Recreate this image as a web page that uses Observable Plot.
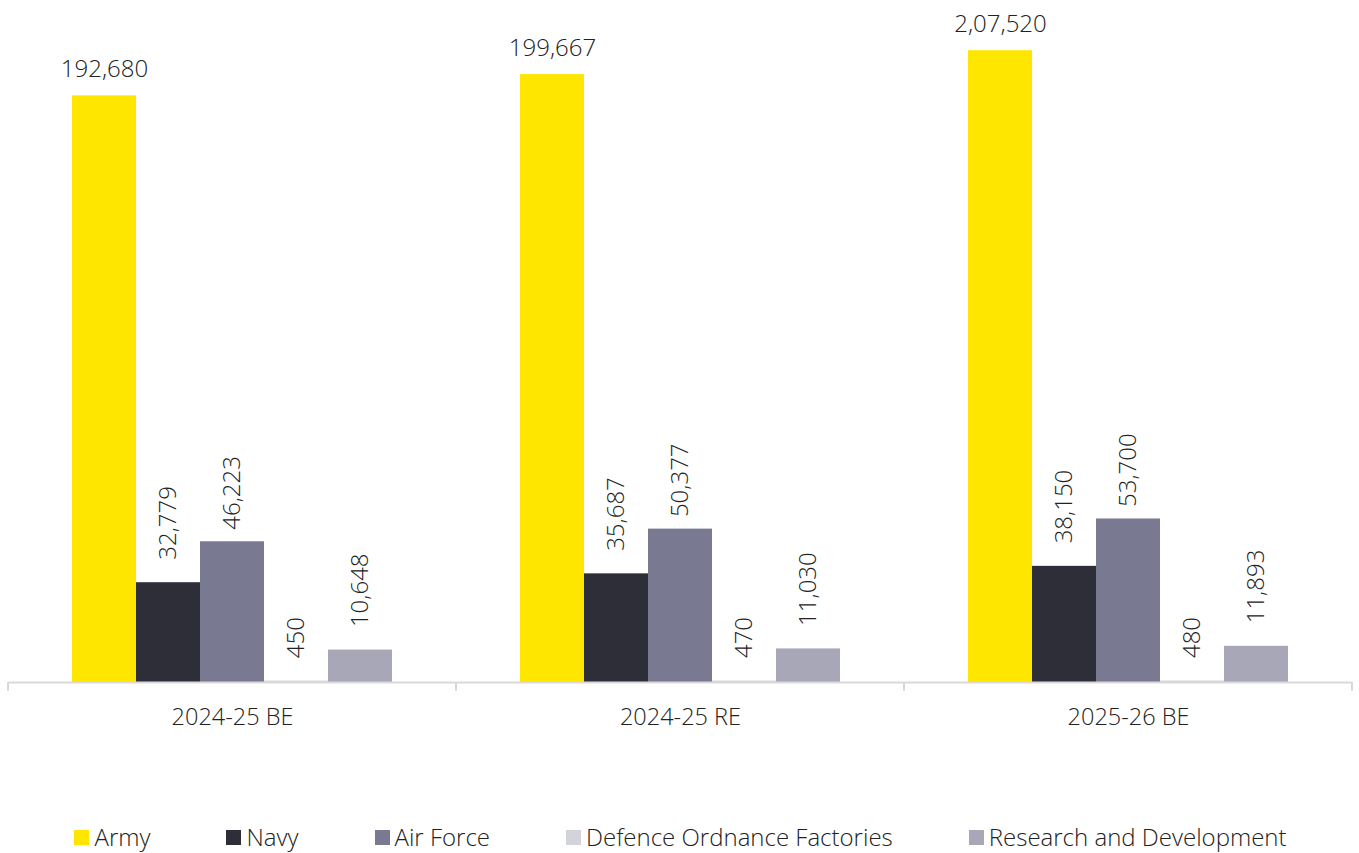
<!DOCTYPE html>
<html>
<head>
<meta charset="utf-8">
<script src="https://cdn.jsdelivr.net/npm/d3@7"></script>
<script src="https://cdn.jsdelivr.net/npm/@observablehq/plot@0.6"></script>
<style>
  html, body { margin: 0; padding: 0; background: #fff; }
  body { width: 1359px; height: 853px; overflow: hidden; font-family: "Open Sans", "Noto Sans", sans-serif; font-weight: 300; color: #222; }
  #legend { display: flex; justify-content: center; gap: 76px; margin-top: 84px; font-size: 24px; line-height: 26px; padding-left: 2px; }
  #legend .item { display: flex; align-items: center; white-space: nowrap; }
  #legend .sw { width: 15px; height: 15px; margin-right: 5px; display: inline-block; }
</style>
</head>
<body>
<div id="chart"></div>
<div id="legend"></div>
<script>
// ---- data ----
const groups = ["2024-25 BE", "2024-25 RE", "2025-26 BE"];
const series = ["Army", "Navy", "Air Force", "Defence Ordnance Factories", "Research and Development"];
const army = [192680, 199667, 207520];
const navy = [32779, 35687, 38150];
const airForce = [46223, 50377, 53700];
const ordnance = [450, 470, 480];
const research = [10648, 11030, 11893];
const armyLabels = ["192,680", "199,667", "2,07,520"];
const navyLabels = ["32,779", "35,687", "38,150"];
const airForceLabels = ["46,223", "50,377", "53,700"];
const ordnanceLabels = ["450", "470", "480"];
const researchLabels = ["10,648", "11,030", "11,893"];
const colors = ["#FFE600", "#2E2E38", "#797991", "#D3D3DC", "#A7A7B7"];

const seriesValues = [army, navy, airForce, ordnance, research];
const seriesLabels = [armyLabels, navyLabels, airForceLabels, ordnanceLabels, researchLabels];
const data = [];
series.forEach((s, si) => {
  groups.forEach((g, gi) => {
    data.push({group: g, series: s, value: seriesValues[si][gi], label: seriesLabels[si][gi]});
  });
});

const textColor = "#222";
const plot = Plot.plot({
  width: 1359,
  height: 740,
  marginLeft: 8,
  marginRight: 7,
  marginTop: 0,
  marginBottom: 58,
  style: {fontFamily: '"Open Sans", "Noto Sans", sans-serif', fontWeight: 300, fontSize: "23.5px", color: textColor, background: "#fff"},
  fx: {domain: groups, padding: 0, axis: "bottom", tickSize: 0, tickPadding: 26, label: null},
  x: {domain: series, paddingInner: 0, paddingOuter: 1, axis: null},
  y: {domain: [0, 224000], axis: null},
  color: {domain: series, range: colors},
  marks: [
    Plot.barY(data, {fx: "group", x: "series", y: "value", fill: "series"}),
    Plot.ruleY([0], {stroke: "#d9d9d9", strokeWidth: 2}),
    Plot.text(data.filter(d => d.series === "Army"), {
      fx: "group", x: "series", y: "value", text: "label",
      lineAnchor: "bottom", dy: -19, fill: textColor, fontSize: 24
    }),
    Plot.text(data.filter(d => d.series === "Air Force"), {
      fx: "group", x: "series", y: "value", text: "label",
      rotate: -90, textAnchor: "start", lineAnchor: "middle", dy: -12, fill: textColor, fontSize: 24
    }),
    Plot.text(data.filter(d => d.series !== "Army" && d.series !== "Air Force"), {
      fx: "group", x: "series", y: "value", text: "label",
      rotate: -90, textAnchor: "start", lineAnchor: "middle", dy: -23, fill: textColor, fontSize: 24
    })
  ]
});
document.getElementById("chart").appendChild(plot);

// axis tick marks at category boundaries, from the library's scales
const fx = plot.scale("fx");
const yS = plot.scale("y");
const y0 = yS.apply(0);
const edges = groups.map(g => fx.apply(g));
edges.push(fx.apply(groups[groups.length - 1]) + fx.bandwidth);
d3.select(plot).append("g")
  .attr("stroke", "#d9d9d9").attr("stroke-width", 2)
  .selectAll("line").data(edges).join("line")
  .attr("x1", d => d).attr("x2", d => d)
  .attr("y1", y0).attr("y2", y0 + 9);

// legend
const legend = d3.select("#legend");
series.forEach((s, i) => {
  const item = legend.append("div").attr("class", "item");
  item.append("span").attr("class", "sw").style("background", colors[i]);
  item.append("span").text(s);
});
</script>
</body>
</html>
